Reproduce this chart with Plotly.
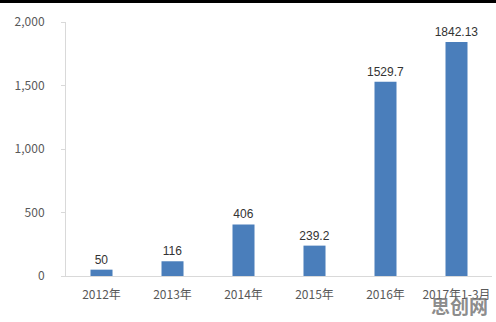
import plotly.graph_objects as go

categories = ["2012年", "2013年", "2014年", "2015年", "2016年", "2017年1-3月"]
values = [50, 116, 406, 239.2, 1529.7, 1842.13]
labels = ["50", "116", "406", "239.2", "1529.7", "1842.13"]
tick_vals = [0, 500, 1000, 1500, 2000]
tick_text = ["0", "500", "1,000", "1,500", "2,000"]

font_family = "Liberation Sans Narrow, Noto Sans CJK SC, sans-serif"

fig = go.Figure(go.Bar(
    x=categories, y=values,
    marker=dict(color="#4a7ebb", line=dict(width=0)),
    text=labels, textposition="outside", constraintext="none",
    textfont=dict(size=12, color="#333333", family="Liberation Sans Narrow, sans-serif"),
    cliponaxis=False,
))

fig.update_layout(
    width=496, height=322,
    margin=dict(l=66, r=4, t=22, b=46),
    paper_bgcolor="white", plot_bgcolor="white",
    bargap=0.69,
    showlegend=False,
    uniformtext=dict(minsize=12, mode="show"),
    font=dict(family=font_family, color="#595959", size=12),
    xaxis=dict(showline=True, linecolor="#d9d9d9", linewidth=1, ticks="",
               ticklabelstandoff=8,
               tickfont=dict(size=12, color="#595959"), showgrid=False),
    yaxis=dict(range=[0, 2000], tickvals=tick_vals, ticktext=tick_text,
               showline=True, linecolor="#d9d9d9", linewidth=1, showgrid=False,
               zeroline=False, ticks="outside", ticklen=4, tickcolor="#d9d9d9",
               ticklabelstandoff=14,
               tickfont=dict(size=12, color="#595959")),
    shapes=[dict(type="rect", xref="paper", yref="paper", x0=-0.3, x1=1.02,
                 y0=1 + 19/254, y1=1 + 22/254, fillcolor="black", line=dict(width=0))],
    annotations=[dict(text="<b>思创网</b>", xref="paper", yref="paper", x=0.995, y=-45/254,
                      xanchor="right", yanchor="bottom", showarrow=False,
                      font=dict(size=19, color="rgba(110,110,110,0.8)",
                                family="Noto Sans CJK SC"))],
)

fig.write_html("out.html")
